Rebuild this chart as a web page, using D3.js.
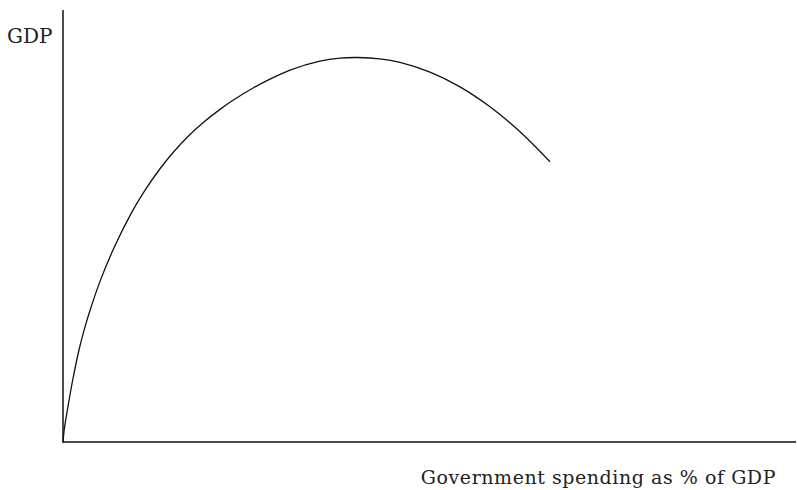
<!DOCTYPE html>
<html><head><meta charset="utf-8">
<script src="https://cdn.jsdelivr.net/npm/d3@7"></script>
<style>body{margin:0;background:#fff}svg{display:block}</style>
</head><body>
<script>
// Government spending as % of GDP (x) vs GDP (y), arbitrary units
const spending = [0, 0.20, 0.55, 1.30, 2.18, 2.86, 3.55, 5.05, 6.96, 9.28, 10.91, 13.23, 15.08, 17.05, 19.17, 21.42, 23.19, 25.99, 28.24, 30.97, 35.06, 37.79, 40.25, 43.25, 45.98, 50.07, 54.16, 58.25, 62.35, 66.44];
const gdp      = [0, 3.24, 6.94, 14.12, 21.30, 25.79, 29.75, 37.18, 44.95, 52.87, 57.57, 63.25, 67.14, 70.73, 74.0, 77.0, 79.1, 82.0, 84.0, 86.1, 88.15, 88.85, 89.0, 88.68, 87.85, 85.60, 82.20, 77.59, 71.83, 64.88];
const xLabel = "Government spending as % of GDP";
const yLabel = "GDP";

const W = 797, H = 490;
const svg = d3.select("body").append("svg").attr("width", W).attr("height", H);
const x = d3.scaleLinear().domain([0, 100]).range([63, 796]);
const y = d3.scaleLinear().domain([0, 100]).range([442, 10]);

svg.append("line").attr("x1", x(0)).attr("x2", x(0)).attr("y1", y(0) + 0.75).attr("y2", y(100))
  .attr("stroke", "#111").attr("stroke-width", 1.5);
svg.append("line").attr("x1", x(0)).attr("x2", x(100)).attr("y1", y(0)).attr("y2", y(0))
  .attr("stroke", "#111").attr("stroke-width", 1.5);

const pts = spending.map((s, i) => [s, gdp[i]]);
svg.append("path").datum(pts)
  .attr("d", d3.line().x(d => x(d[0])).y(d => y(d[1])).curve(d3.curveCatmullRom.alpha(0.5)))
  .attr("fill", "none").attr("stroke", "#111").attr("stroke-width", 1.3);

svg.append("text").attr("x", 7).attr("y", 43).text(yLabel)
  .attr("font-family", "DejaVu Serif").attr("font-size", 20).attr("fill", "#222");
svg.append("text").attr("x", 776).attr("y", 484).attr("text-anchor", "end").text(xLabel)
  .attr("font-family", "DejaVu Serif").attr("font-size", 19).attr("letter-spacing", 0.55).attr("fill", "#222");
</script>
</body></html>
